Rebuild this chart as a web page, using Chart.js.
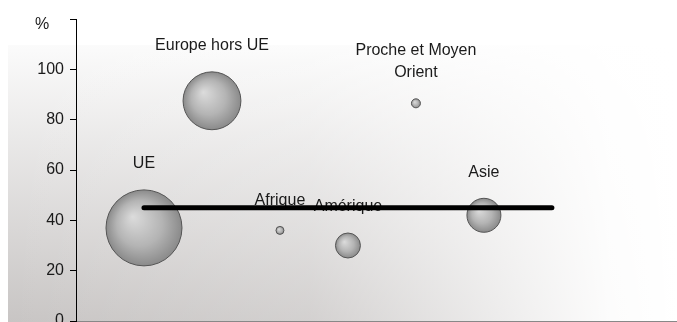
<!DOCTYPE html>
<html>
<head>
<meta charset="utf-8">
<script src="https://cdn.jsdelivr.net/npm/chart.js@4.4.0/dist/chart.umd.min.js"></script>
<style>
  html, body { margin: 0; padding: 0; overflow: hidden; background: #fff; }
</style>
</head>
<body>
<canvas id="bubble_chart" width="677" height="340"></canvas>
<script>
// zones and their values
var zones = ["UE", "Europe hors UE", "Afrique", "Amérique", ["Proche et Moyen", "Orient"], "Asie"];
var zonePos = [1, 2, 3, 4, 5, 6];
var zonePct = [37, 87.5, 36, 30, 86.5, 42];
var zoneSize = [100, 58, 1.1, 10.8, 1.4, 20];
var avgLine = [45, 45];
var avgPos = [1, 7];
var yTicks = [0, 20, 40, 60, 80, 100];

var bubbleData = zonePos.map(function (x, i) {
    return { x: x, y: zonePct[i], r: 38 * Math.sqrt(zoneSize[i] / 100), label: zones[i] };
});
var lineData = avgPos.map(function (x, i) { return { x: x, y: avgLine[i] }; });

var FONT = "'Liberation Sans', Arial, sans-serif";

// background shading behind the plot
var bgPlugin = {
    id: "bg",
    beforeDraw: function (chart) {
        var c = chart.ctx;
        var x0 = 8, y0 = 45, w = chart.width - 8, h = 322 - 45;
        c.save();
        var g = c.createLinearGradient(0, y0, 0, y0 + h);
        g.addColorStop(0, "#fbfbfb");
        g.addColorStop(1, "#c8c5c4");
        c.fillStyle = g;
        c.fillRect(x0, y0, w, chart.height - y0);
        var g2 = c.createLinearGradient(x0, 0, x0 + w, 0);
        g2.addColorStop(0, "rgba(255,255,255,0)");
        g2.addColorStop(0.45, "rgba(255,255,255,0.2)");
        g2.addColorStop(0.9, "rgba(255,255,255,0.95)");
        g2.addColorStop(1, "rgba(255,255,255,1)");
        c.fillStyle = g2;
        c.fillRect(x0, y0, w, chart.height - y0);
        c.fillStyle = "#1a1a1a";
        c.font = "16px " + FONT;
        c.textAlign = "center";
        c.textBaseline = "middle";
        c.fillText("%", 42, 25);
        c.restore();
    }
};

// bubble names above each bubble, drawn before the black line
var labelPlugin = {
    id: "bubbleLabels",
    afterDatasetDraw: function (chart, args) {
        if (chart.data.datasets[args.index].type !== "bubble") return;
        var c = chart.ctx;
        c.save();
        c.font = "16px " + FONT;
        c.fillStyle = "#1a1a1a";
        c.textAlign = "center";
        c.textBaseline = "middle";
        args.meta.data.forEach(function (el, i) {
            var d = bubbleData[i];
            var lines = Array.isArray(d.label) ? d.label : [d.label];
            var yy = el.y - d.r - 26;
            for (var k = lines.length - 1; k >= 0; k--) {
                c.fillText(lines[k], el.x, yy);
                yy -= 22;
            }
        });
        c.restore();
    }
};

function bubbleFill(ctx) {
    var chart = ctx.chart;
    var d = ctx.raw;
    if (!d || !chart.scales.x || !chart.scales.y) return "#aaa";
    var x = chart.scales.x.getPixelForValue(d.x);
    var y = chart.scales.y.getPixelForValue(d.y);
    var r = d.r;
    if (!isFinite(x) || !isFinite(y) || !isFinite(r)) return "#aaa";
    var g = chart.ctx.createRadialGradient(x - r * 0.3, y - r * 0.3, 0, x, y, r);
    g.addColorStop(0, "#dcdcdc");
    g.addColorStop(0.6, "#b4b4b4");
    g.addColorStop(1, "#8a8a8a");
    return g;
}

new Chart(document.getElementById("bubble_chart"), {
    data: {
        datasets: [
            {
                type: "line",
                label: "Moyenne",
                data: lineData,
                borderColor: "#000",
                borderWidth: 5,
                borderCapStyle: "round",
                pointRadius: 0,
                fill: false,
                order: 0
            },
            {
                type: "bubble",
                label: "Zones",
                data: bubbleData,
                backgroundColor: bubbleFill,
                borderColor: "#555",
                borderWidth: 1,
                order: 1
            }
        ]
    },
    options: {
        responsive: false,
        animation: false,
        layout: { autoPadding: false, padding: { left: 0, right: 0, top: 19, bottom: 19 } },
        plugins: { legend: { display: false }, tooltip: { enabled: false } },
        scales: {
            x: {
                type: "linear",
                min: 0,
                max: 8.84,
                ticks: { display: false },
                grid: { display: false },
                border: { color: "#888", width: 1 },
                afterFit: function (s) { s.height = 0; }
            },
            y: {
                min: 0,
                max: 120,
                afterBuildTicks: function (s) {
                    s.ticks = yTicks.concat([120]).map(function (v) { return { value: v }; });
                },
                ticks: {
                    color: "#1a1a1a",
                    font: { size: 16, family: FONT },
                    padding: 6,
                    callback: function (v) { return v === 120 ? "" : v; }
                },
                grid: { drawOnChartArea: false, tickLength: 6, color: "#000" },
                border: { color: "#000", width: 1 },
                afterFit: function (s) { s.width = 76; }
            }
        }
    },
    plugins: [bgPlugin, labelPlugin]
});
</script>
</body>
</html>
